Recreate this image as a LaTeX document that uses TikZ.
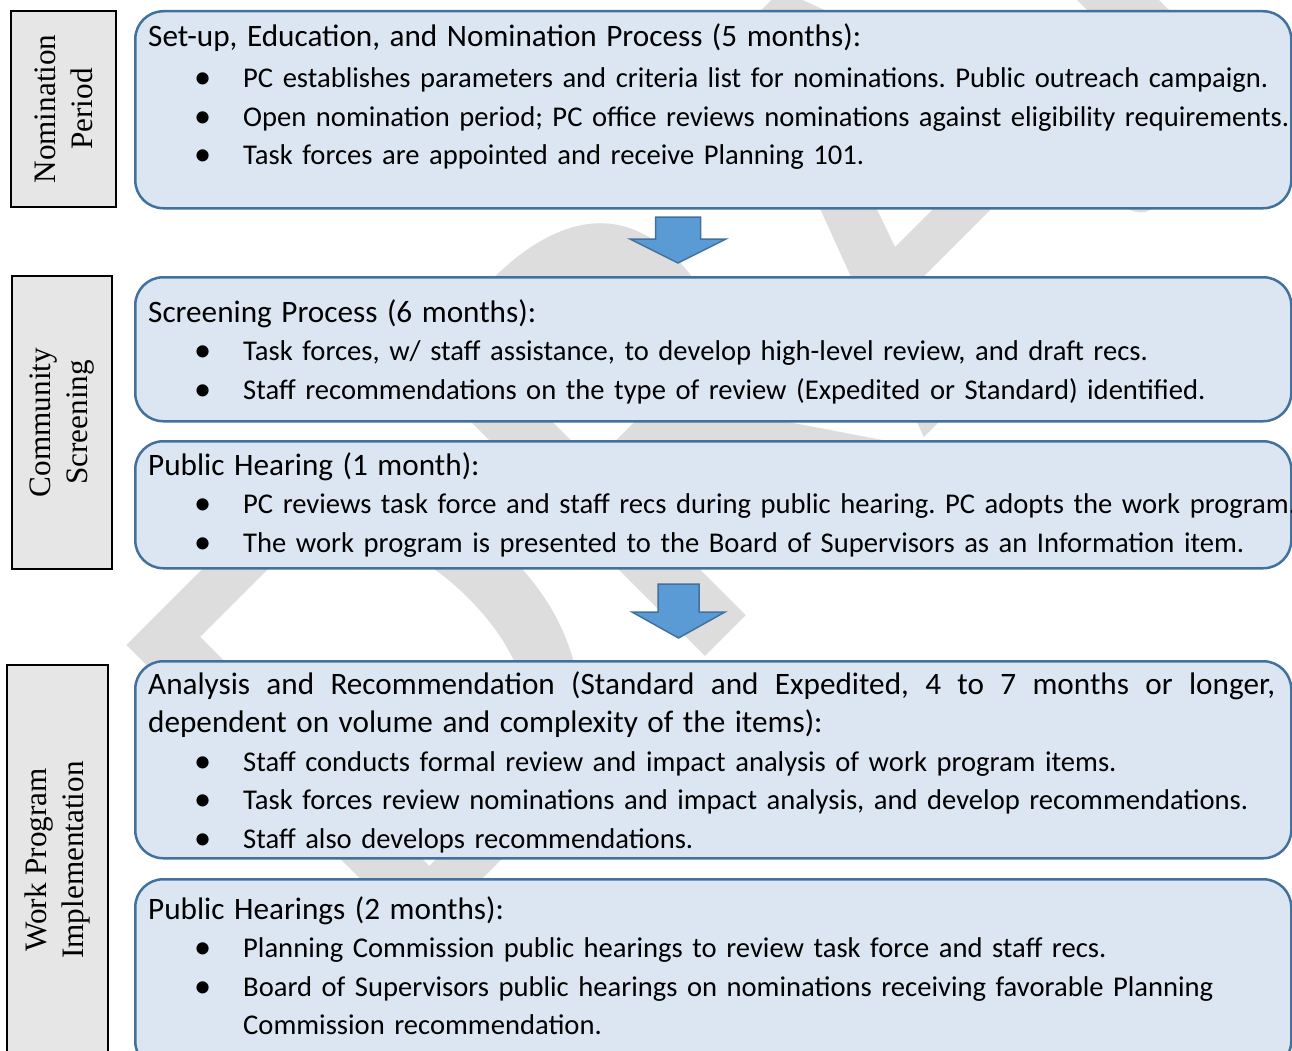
\documentclass[tikz,border=0pt]{standalone}
\usepackage{fontspec}
\setmainfont{Carlito}
\newfontfamily\labelfont{Liberation Serif}
\usetikzlibrary{positioning}

\definecolor{stagefill}{HTML}{DCE6F2}
\definecolor{stageline}{HTML}{41719C}
\definecolor{arrowfill}{HTML}{5B9BD5}
\definecolor{phasefill}{HTML}{E6E6E6}
\definecolor{draftgray}{HTML}{DDDDDD}

% bullet with hanging text position
\newcommand{\bul}{\hspace*{46pt}\makebox[49pt][l]{\raisebox{-1pt}{\scalebox{1.2}{\textbullet}}}}
% stage headings are a size larger than the items
\newcommand{\stagehead}[1]{{\fontsize{31.2}{38.6}\selectfont #1}}
% heading line spread over the whole box width
\newcommand{\spreadline}[1]{\hbox to 1127pt{\spaceskip=0.23em plus 1fil\relax #1}}

\begin{document}
\frenchspacing
\begin{tikzpicture}[x=1pt, y=-1pt,
        stage/.style={draw=stageline, fill=stagefill, line width=2.5pt, rounded corners=28pt,
            anchor=north west, minimum width=1156pt, inner sep=0pt},
        stagetext/.style={anchor=base west, inner sep=0pt, text width=1250pt, align=left,
            font=\fontsize{28.6}{38.6}\selectfont},
        phase/.style={draw=black, fill=phasefill, line width=1.8pt, rotate=90, inner sep=0pt,
            align=center, font=\labelfont\fontsize{31.2}{36.7}\selectfont},
        flowarrow/.style={draw=stageline, fill=arrowfill, line width=1.5pt, line join=miter},
        draft/.style={text=draftgray, rotate=45, anchor=base west, inner sep=0pt,
            font=\fontsize{650}{650}\selectfont}]

    \useasboundingbox (0,0) rectangle (1292,1051);

    % watermark behind everything
    \node[draft] (draft) at (390,972) {DRAFT};

    % phase labels
    \node[phase, minimum width=196pt, minimum height=105pt] (nomination) at (63.5,109) {Nomination\\Period};
    \node[phase, minimum width=293pt, minimum height=100pt] (community) at (62,422.5) {Community\\Screening};
    \node[phase, minimum width=390pt, minimum height=101pt] (workprog) at (57.5,860) {Work Program\\Implementation};

    % stage boxes
    \node[stage, minimum height=197pt] (setup) at (134,10) {};
    \node[stage, minimum height=144pt] (screening) at (134,276) {};
    \node[stage, minimum height=127pt] (hearing) at (134,440) {};
    \node[stage, minimum height=197pt] (analysis) at (134,660) {};
    \node[stage, minimum height=190pt] (hearings) at (134,878) {};

    \node[stagetext] (setuptext) at (148,47) {\stagehead{Set-up, Education, and Nomination Process (5 months):}\\[2pt]
        \bul PC establishes parameters and criteria list for nominations. Public outreach campaign.\\
        \bul Open nomination period; PC office reviews nominations against eligibility requirements.\\
        \bul Task forces are appointed and receive Planning 101.};

    \node[stagetext] (screeningtext) at (148,322) {\stagehead{Screening Process (6 months):}\\
        \bul Task forces, w/ staff assistance, to develop high-level review, and draft recs.\\
        \bul Staff recommendations on the type of review (Expedited or Standard) identified.};

    \node[stagetext] (hearingtext) at (148,475) {\stagehead{Public Hearing (1 month):}\\
        \bul PC reviews task force and staff recs during public hearing. PC adopts the work program.\\
        \bul The work program is presented to the Board of Supervisors as an Information item.};

    \node[stagetext] (analysistext) at (148,694) {\stagehead{\spreadline{Analysis and Recommendation (Standard and Expedited, 4 to 7 months or longer,}}\\
        \stagehead{dependent on volume and complexity of the items):}\\
        \bul Staff conducts formal review and impact analysis of work program items.\\
        \bul Task forces review nominations and impact analysis, and develop recommendations.\\
        \bul Staff also develops recommendations.};

    \node[stagetext] (hearingstext) at (148,919) {\stagehead{Public Hearings (2 months):}\\
        \bul Planning Commission public hearings to review task force and staff recs.\\
        \bul Board of Supervisors public hearings on nominations receiving favorable Planning\\
        \hspace*{95pt}Commission recommendation.};

    % block arrows between the stages
    \coordinate (arrow1) at (678,217);
    \coordinate (arrow2) at (678.5,584);
    \draw[flowarrow] (arrow1) ++(-22.5,0) -- ++(45,0) -- ++(0,22) -- ++(25.5,0) -- ++(-48,24) -- ++(-48,-24) -- ++(25.5,0) -- cycle;
    \draw[flowarrow] (arrow2) ++(-20.5,0) -- ++(41,0) -- ++(0,28) -- ++(26,0) -- ++(-46.5,26) -- ++(-46.5,-26) -- ++(26,0) -- cycle;
\end{tikzpicture}
\end{document}
